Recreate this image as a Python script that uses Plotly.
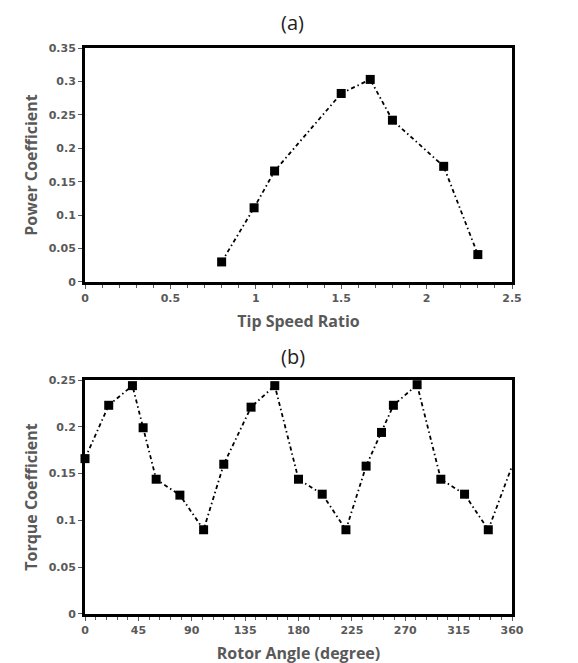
import plotly.graph_objects as go
from plotly.subplots import make_subplots

# (a) Power coefficient vs tip speed ratio
tsr = [0.8, 0.99, 1.11, 1.5, 1.67, 1.8, 2.1, 2.3]
cp = [0.030, 0.111, 0.166, 0.282, 0.303, 0.242, 0.173, 0.041]

# (b) Torque coefficient vs rotor angle
angle = [0, 20, 40, 49, 60, 80, 100, 117, 140, 160, 180, 200, 220, 237, 250, 260, 280, 300, 320, 340, 360]
ct = [0.166, 0.223, 0.244, 0.199, 0.144, 0.127, 0.090, 0.160, 0.221, 0.244, 0.144, 0.128, 0.090,
      0.158, 0.194, 0.223, 0.245, 0.144, 0.128, 0.090, 0.158]

GRAY = "#595959"
TICKFONT = dict(family="DejaVu Sans", size=11, color=GRAY, weight="bold")
TITLEFONT = dict(family="Open Sans", size=16, color=GRAY, weight="bold")
DASH = "4px,3px,1.5px,3px"

fig = make_subplots(rows=2, cols=1, vertical_spacing=0.1732)

fig.add_trace(go.Scatter(x=tsr, y=cp, mode="lines+markers",
                         line=dict(color="black", width=1.8, dash=DASH),
                         marker=dict(symbol="square", size=9, color="black"),
                         showlegend=False), row=1, col=1)
# line through all angles, markers for all but the final (hidden) point
fig.add_trace(go.Scatter(x=angle, y=ct, mode="lines",
                         line=dict(color="black", width=1.8, dash=DASH),
                         showlegend=False), row=2, col=1)
fig.add_trace(go.Scatter(x=angle[:-1], y=ct[:-1], mode="markers",
                         marker=dict(symbol="square", size=9, color="black"),
                         showlegend=False, cliponaxis=False), row=2, col=1)

axis_common = dict(showgrid=False, zeroline=False, showline=True, linecolor="black",
                   linewidth=3, mirror=True, tickfont=TICKFONT, title_font=TITLEFONT,
                   ticks="outside", ticklen=4, tickcolor=GRAY, tickwidth=1)

fig.update_xaxes(**axis_common)
fig.update_yaxes(**axis_common)

fig.update_xaxes(range=[0, 2.5], tickvals=[0, 0.5, 1, 1.5, 2, 2.5],
                 ticktext=["0", "0.5", "1", "1.5", "2", "2.5"],
                 minor=dict(dtick=0.1, ticks="outside", ticklen=3, tickcolor=GRAY),
                 title_text="Tip Speed Ratio", title_standoff=12, row=1, col=1)
fig.update_yaxes(range=[0, 0.35], tickvals=[0, 0.05, 0.1, 0.15, 0.2, 0.25, 0.3, 0.35],
                 ticktext=["0", "0.05", "0.1", "0.15", "0.2", "0.25", "0.3", "0.35"],
                 title_text="Power Coefficient", title_standoff=8, row=1, col=1)
fig.update_xaxes(range=[0, 360], tickvals=[0, 45, 90, 135, 180, 225, 270, 315, 360],
                 minor=dict(dtick=9, ticks="outside", ticklen=3, tickcolor=GRAY),
                 title_text="Rotor Angle (degree)", title_standoff=12, row=2, col=1)
fig.update_yaxes(range=[0, 0.25], tickvals=[0, 0.05, 0.1, 0.15, 0.2, 0.25],
                 ticktext=["0", "0.05", "0.1", "0.15", "0.2", "0.25"],
                 title_text="Torque Coefficient", title_standoff=8, row=2, col=1)

fig.update_layout(
    width=578, height=663,
    margin=dict(l=77, r=74, t=40, b=57),
    plot_bgcolor="white", paper_bgcolor="white",
    annotations=[
        dict(text="(a)", x=0.487, y=1.0, xref="paper", yref="paper", showarrow=False,
             yanchor="bottom", yshift=10, font=dict(family="Open Sans", size=20, color="#222222")),
        dict(text="(b)", x=0.487, y=0.4134, xref="paper", yref="paper", showarrow=False,
             yanchor="bottom", yshift=8, font=dict(family="Open Sans", size=20, color="#222222")),
    ],
)

fig.write_html("out.html")
